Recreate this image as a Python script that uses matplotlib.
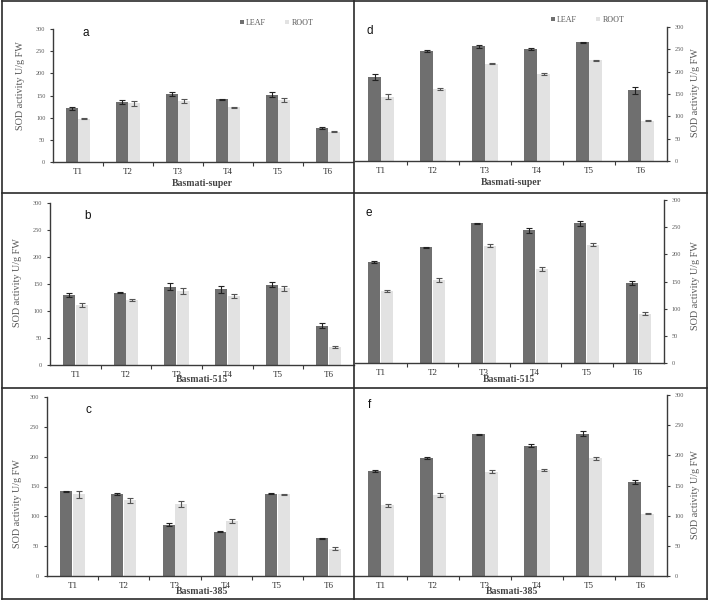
"""SOD activity in leaf and root of three basmati cultivars (six panels)."""
import matplotlib
matplotlib.use('Agg')
import matplotlib.pyplot as plt
import numpy as np
from matplotlib.lines import Line2D

plt.rcParams['font.family'] = 'Liberation Serif'

W, H = 709, 601

LEAF_C = '#6f6f6f'
ROOT_C = '#e2e2e2'
AXIS_C = '#3a3a3a'
TEXT_C = '#595959'

treatments = ['T1', 'T2', 'T3', 'T4', 'T5', 'T6']

# left column: a, b, c   right column: d, e, f
leaf_a = [121, 135, 153, 141, 152, 77]
root_a = [98, 132, 138, 123, 140, 68]
leaf_a_err = [4, 5, 4, 2, 6, 3]
root_a_err = [2, 5, 4, 1, 5, 1]

leaf_b = [130, 134, 145, 140, 149, 73]
root_b = [111, 120, 137, 128, 142, 34]
leaf_b_err = [4, 1, 6, 6, 5, 4]
root_b_err = [3, 2, 5, 4, 5, 2]

leaf_c = [142, 137, 86, 74, 138, 63]
root_c = [137, 127, 120, 92, 137, 46]
leaf_c_err = [1, 2, 3, 1, 1, 1]
root_c_err = [6, 4, 5, 3, 1, 2]

leaf_d = [188, 246, 257, 251, 266, 158]
root_d = [144, 162, 218, 195, 225, 90]
leaf_d_err = [6, 3, 3, 3, 1, 7]
root_d_err = [6, 2, 1, 3, 2, 1]

leaf_e = [186, 213, 257, 244, 257, 147]
root_e = [132, 153, 216, 173, 218, 91]
leaf_e_err = [2, 1, 1, 4, 4, 4]
root_e_err = [2, 4, 3, 4, 3, 2]

leaf_f = [174, 196, 235, 216, 236, 156]
root_f = [117, 134, 173, 176, 195, 103]
leaf_f_err = [2, 2, 1, 2, 4, 3]
root_f_err = [3, 3, 3, 2, 2, 1]

fig = plt.figure(figsize=(W / 100, H / 100), dpi=100)
fig.patch.set_facecolor('white')


def fx(px):
    return px / W


def fy(py):
    return 1 - py / H


def panel(rect, letter, cultivar, leaf, root, leaf_err, root_err, right,
          letter_xy, xlabel_xy, ylabel_xy, legend_xy=None):
    x0, x1, ytop, ybot = rect
    ax = fig.add_axes([fx(x0), fy(ybot), (x1 - x0) / W, (ybot - ytop) / H])
    x = np.arange(len(treatments))
    w = 0.235
    b1 = ax.bar(x - 0.125, leaf, w, color=LEAF_C, label='LEAF', zorder=2)
    b2 = ax.bar(x + 0.125, root, w, color=ROOT_C, label='ROOT', zorder=2)
    ax.errorbar(x - 0.125, leaf, yerr=leaf_err, fmt='none', ecolor='#222222',
                elinewidth=0.8, capsize=2, capthick=0.8, zorder=3)
    ax.errorbar(x + 0.125, root, yerr=root_err, fmt='none', ecolor='#555555',
                elinewidth=0.8, capsize=2, capthick=0.8, zorder=3)
    ax.set_xlim(-0.5, 5.5)
    ax.set_ylim(0, 300)
    ax.set_yticks(range(0, 301, 50))
    ax.set_xticks(x)
    ax.set_xticklabels(treatments)
    ax.set_xticks(np.arange(0.5, 5, 1), minor=True)
    ax.tick_params(axis='x', which='major', length=0, pad=4,
                   labelsize=6.5, labelcolor='#333333')
    ax.tick_params(axis='x', which='minor', length=3, width=0.8,
                   color=AXIS_C, direction='out')
    ax.tick_params(axis='y', length=2.5, width=0.8, color=AXIS_C,
                   labelsize=4.5, labelcolor=TEXT_C, pad=3)
    for s in ['top', 'left', 'right']:
        ax.spines[s].set_visible(False)
    ax.spines['bottom'].set_color(AXIS_C)
    ax.spines['bottom'].set_linewidth(1.0)
    side = 'right' if right else 'left'
    ax.spines[side].set_visible(True)
    ax.spines[side].set_color(AXIS_C)
    ax.spines[side].set_linewidth(1.0)
    if right:
        ax.yaxis.tick_right()
    ax.patch.set_alpha(0)

    fig.text(fx(letter_xy[0]), fy(letter_xy[1]), letter, ha='center',
             va='center', fontsize=8.5, family='Liberation Sans', color='#111111')
    fig.text(fx(xlabel_xy[0]), fy(xlabel_xy[1]), cultivar, ha='center',
             va='center', fontsize=7, fontweight='bold', color='#444444')
    fig.text(fx(ylabel_xy[0]), fy(ylabel_xy[1]), 'SOD activity U/g FW',
             ha='center', va='center', rotation=90, fontsize=7.3, color=TEXT_C)
    if legend_xy is not None:
        fig.legend(handles=[b1, b2], loc='center left',
                   bbox_to_anchor=(fx(legend_xy[0]), fy(legend_xy[1])),
                   ncol=2, frameon=False, fontsize=5.8, labelcolor=TEXT_C,
                   handlelength=0.45, handleheight=0.45, handletextpad=0.3,
                   columnspacing=2.4, borderaxespad=0, borderpad=0)
    return ax


panel((53, 353, 29, 162), 'a', 'Basmati-super', leaf_a, root_a,
      leaf_a_err, root_a_err, False, (86, 33), (202, 184), (21, 86),
      legend_xy=(240, 23))
panel((50, 354, 203, 365), 'b', 'Basmati-515', leaf_b, root_b,
      leaf_b_err, root_b_err, False, (88, 216), (202, 380), (18, 283))
panel((47, 354, 397, 576), 'c', 'Basmati-385', leaf_c, root_c,
      leaf_c_err, root_c_err, False, (88, 410), (202, 592), (18, 504))
panel((355, 667, 27, 161), 'd', 'Basmati-super', leaf_d, root_d,
      leaf_d_err, root_d_err, True, (370, 31), (511, 183), (695, 93),
      legend_xy=(551, 20))
panel((355, 664, 200, 363), 'e', 'Basmati-515', leaf_e, root_e,
      leaf_e_err, root_e_err, True, (369, 213), (509, 380), (695, 286))
panel((355, 667, 395, 576), 'f', 'Basmati-385', leaf_f, root_f,
      leaf_f_err, root_f_err, True, (370, 405), (512, 592), (696, 495))

# panel frames
frame = dict(color='#2a2a2a', lw=1.2, transform=fig.transFigure)
for xs, ys in [([2, 707], [1, 1]), ([2, 707], [599, 599]),
               ([2, 2], [1, 599]), ([707, 707], [1, 599]),
               ([354, 354], [1, 599]), ([2, 707], [193, 193]),
               ([2, 707], [388, 388])]:
    fig.add_artist(Line2D([fx(v) for v in xs], [fy(v) for v in ys], **frame))

fig.savefig('out.png', dpi=100, facecolor='white')
